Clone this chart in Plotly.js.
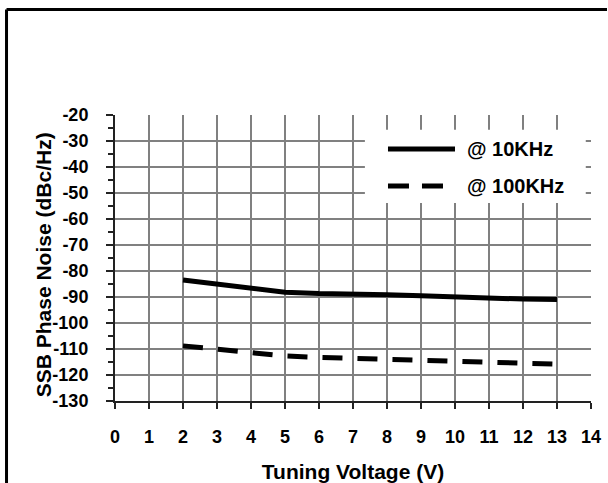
<!DOCTYPE html>
<html>
<head>
<meta charset="utf-8">
<script src="https://cdn.plot.ly/plotly-3.0.1.min.js"></script>
<style>
html,body{margin:0;padding:0;background:#fff;overflow:hidden;width:608px;height:483px;}
#chart{width:608px;height:483px;}
</style>
</head>
<body>
<div id="chart"></div>
<script>
// Data
const voltage = [2, 3, 4, 5, 6, 7, 8, 9, 10, 11, 12, 13];
const noise10k = [-83.5, -85.1, -87.0, -88.2, -88.7, -88.8, -89.1, -89.5, -90.0, -90.4, -90.8, -91.0];
const noise100k = [-108.8, -110.2, -111.6, -112.7, -113.2, -113.6, -114.0, -114.3, -114.7, -115.1, -115.5, -115.8];
const seriesNames = ['@ 10KHz', '@ 100KHz'];
const xTickVals = [0, 1, 2, 3, 4, 5, 6, 7, 8, 9, 10, 11, 12, 13, 14];
const yTickVals = [-20, -30, -40, -50, -60, -70, -80, -90, -100, -110, -120, -130];
const yTickText = ['-20', '-30', '-40', '-50', '-60', '-70', '-80', '-90', '-100', '-110', '-120', '-130'];
const xTitle = 'Tuning Voltage (V)';
const yTitle = 'SSB Phase Noise (dBc/Hz)';

const FONT = 'Liberation Sans, Arial, sans-serif';

const traces = [
  {x: voltage, y: noise10k, name: seriesNames[0], mode: 'lines', type: 'scatter',
   line: {color: '#000', width: 5}, showlegend: false},
  {x: voltage, y: noise100k, name: seriesNames[1], mode: 'lines', type: 'scatter',
   line: {color: '#000', width: 5, dash: '20px,15px'}, showlegend: false}
];

// plot area: x 115..591, y 115..401
const legendShapes = [
  {type: 'rect', xref: 'paper', yref: 'paper', x0: 0.525, x1: 0.989, y0: 0.692, y1: 0.948,
   fillcolor: '#fff', line: {width: 0}, layer: 'above'},
  {type: 'line', xref: 'paper', yref: 'paper', x0: 0.5735, x1: 0.7143, y0: 0.881, y1: 0.881,
   line: {color: '#000', width: 5}, layer: 'above'},
  {type: 'line', xref: 'paper', yref: 'paper', x0: 0.5735, x1: 0.7143, y0: 0.752, y1: 0.752,
   line: {color: '#000', width: 5, dash: '21px,13px'}, layer: 'above'},
  // outer frame: left and top edges (the rest lies outside the picture)
  {type: 'line', xref: 'paper', yref: 'paper', x0: -0.2279, x1: -0.2279, y0: -0.4, y1: 1.3689,
   line: {color: '#000', width: 3}, layer: 'above'},
  {type: 'line', xref: 'paper', yref: 'paper', x0: -0.2279, x1: 1.0336, y0: 1.3689, y1: 1.3689,
   line: {color: '#000', width: 3}, layer: 'above'}
];

const legendFont = {family: FONT, size: 20, color: '#000', weight: 'bold'};
const legendAnn = [
  {xref: 'paper', yref: 'paper', x: 0.735, y: 0.881, xanchor: 'left', yanchor: 'middle',
   text: seriesNames[0], showarrow: false, font: legendFont},
  {xref: 'paper', yref: 'paper', x: 0.735, y: 0.752, xanchor: 'left', yanchor: 'middle',
   text: seriesNames[1], showarrow: false, font: legendFont},
  {xref: 'paper', yref: 'paper', x: -0.151, y: 0.475, xanchor: 'center', yanchor: 'middle',
   textangle: -90, text: yTitle, showarrow: false,
   font: {family: FONT, size: 21, color: '#000', weight: 'bold'}}
];

const layout = {
  width: 608, height: 483,
  margin: {l: 115, r: 17, t: 115, b: 82},
  paper_bgcolor: '#fff', plot_bgcolor: '#fff',
  font: {family: FONT, color: '#000'},
  showlegend: false,
  xaxis: {
    range: [0, 14], tickmode: 'array', tickvals: xTickVals,
    showgrid: true, gridcolor: '#808080', gridwidth: 1.5,
    showline: true, linecolor: '#222', linewidth: 2,
    ticks: 'outside', ticklen: 6, tickwidth: 1.5, tickcolor: '#222',
    ticklabelstandoff: 12,
    tickfont: {family: FONT, size: 18, color: '#000', weight: 'bold'},
    zeroline: false,
    title: {text: xTitle, font: {family: FONT, size: 21, color: '#000', weight: 'bold'}, standoff: 19}
  },
  yaxis: {
    range: [-130, -20], tickmode: 'array', tickvals: yTickVals, ticktext: yTickText,
    showgrid: true, gridcolor: '#808080', gridwidth: 1.5,
    showline: true, linecolor: '#222', linewidth: 2,
    ticks: 'outside', ticklen: 7, tickwidth: 1.5, tickcolor: '#222',
    minor: {dtick: 5, tick0: -130, ticks: 'outside', ticklen: 5, tickwidth: 1.5, tickcolor: '#222', showgrid: false},
    ticklabelstandoff: 14,
    tickfont: {family: FONT, size: 18, color: '#000', weight: 'bold'},
    zeroline: false
  },
  shapes: legendShapes,
  annotations: legendAnn
};

Plotly.newPlot('chart', traces, layout, {staticPlot: true, displayModeBar: false});
</script>
</body>
</html>
